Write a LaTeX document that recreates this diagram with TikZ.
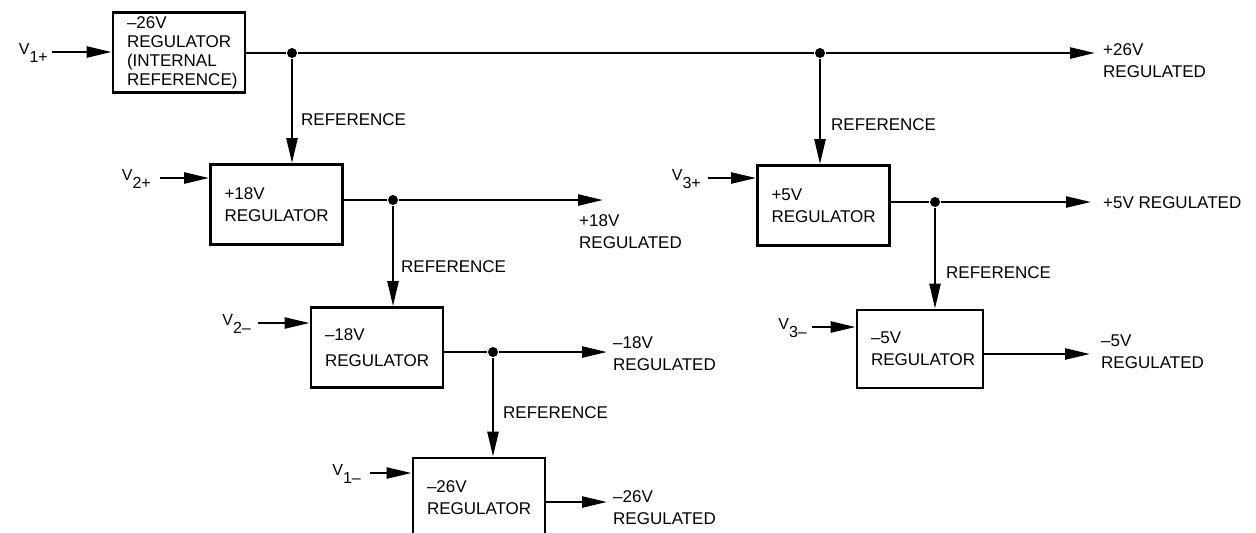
\documentclass[tikz,border=0pt]{standalone}
\usepackage{fontspec}
\setmainfont{Liberation Sans}
\usepackage{tikz}
\usetikzlibrary{arrows.meta}

% supply name with lowered index
\newcommand{\vname}[1]{V\raisebox{-4pt}{#1}}

\begin{document}
\begin{tikzpicture}[x=0.5pt,y=-0.5pt,
  font=\fontsize{8.5}{11}\selectfont,
  line width=1.2pt,
  arr/.style={-{Triangle[length=12.5pt,width=5.5pt]}},
  regbox/.style={draw,line width=1.4pt,text width=52pt,inner xsep=7pt,
    inner ysep=1pt,minimum height=40pt,align=left},
  lbl/.style={align=left,inner sep=0pt},
  vlbl/.style={anchor=base east,inner sep=0pt,font=\fontsize{8}{9}\selectfont},
  dot/.style={circle,fill,inner sep=0pt,minimum size=5pt}]

% frame
\useasboundingbox (0,0) rectangle (1256,532);
\clip (0,0) rectangle (1256,532);

% regulators
\node[regbox,font=\fontsize{8.5}{9.5}\selectfont] (intreg) at (179,52.5)
  {--26V\\REGULATOR\\(INTERNAL\\REFERENCE)};
\node[regbox] (reg18p) at (276.5,204.5) {+18V\\REGULATOR};
\node[regbox,font=\fontsize{8.5}{13}\selectfont] (reg18n) at (377,347.5) {--18V\\REGULATOR};
\node[regbox] (reg26n) at (479,498) {--26V\\REGULATOR};
\node[regbox] (reg5p) at (823.5,205.5) {+5V\\REGULATOR};
\node[regbox,text width=49pt,minimum height=39pt] (reg5n) at (920,349) {--5V\\REGULATOR};

% junctions
\node[dot] (j1) at (292,53) {};
\node[dot] (j2) at (820,53) {};
\node[dot] (j3) at (393,200) {};
\node[dot] (j4) at (493,352) {};
\node[dot] (j5) at (935,202) {};

% free ends of the outputs
\coordinate (o1) at (1095,53);
\coordinate (o2) at (603,200);
\coordinate (o3) at (607,352);
\coordinate (o4) at (607,502);
\coordinate (o5) at (1091,202);
\coordinate (o6) at (1090,354);

% free ends of the inputs
\coordinate (i1) at (52,52);
\coordinate (i2) at (160,178);
\coordinate (i3) at (258,323);
\coordinate (i4) at (370,473);
\coordinate (i5) at (708,178);
\coordinate (i6) at (812,327);

% inputs
\node[vlbl] (v1p) at (49,54) {\vname{1+}};
\node[vlbl] (v2p) at (152,180) {\vname{2+}};
\node[vlbl] (v2n) at (252,325) {\vname{2--}};
\node[vlbl] (v1n) at (362,475) {\vname{1--}};
\node[vlbl] (v3p) at (702,180) {\vname{3+}};
\node[vlbl] (v3n) at (808,329) {\vname{3--}};
\draw[arr] (i1) -- (i1 -| intreg.west);
\draw[arr] (i2) -- (i2 -| reg18p.west);
\draw[arr] (i3) -- (i3 -| reg18n.west);
\draw[arr] (i4) -- (i4 -| reg26n.west);
\draw[arr] (i5) -- (i5 -| reg5p.west);
\draw[arr] (i6) -- (i6 -| reg5n.west);

% outputs
\draw (intreg.east |- j1) -- (j1);
\draw (j1) -- (j2);
\draw[arr] (j2) -- (o1);
\draw (reg18p.east |- j3) -- (j3);
\draw[arr] (j3) -- (o2);
\draw (reg18n.east |- j4) -- (j4);
\draw[arr] (j4) -- (o3);
\draw[arr] (reg26n.east |- o4) -- (o4);
\draw (reg5p.east |- j5) -- (j5);
\draw[arr] (j5) -- (o5);
\draw[arr] (reg5n.east |- o6) -- (o6);

% output labels
\node[lbl,anchor=west] (out26p) at (1102,61) {+26V\\REGULATED};
\node[lbl,anchor=west] (out18p) at (578,232) {+18V\\REGULATED};
\node[lbl,anchor=west] (out18n) at (612,354) {--18V\\REGULATED};
\node[lbl,anchor=west] (out26n) at (612,508) {--26V\\REGULATED};
\node[lbl,anchor=west] (out5p) at (1102,203) {+5V REGULATED};
\node[lbl,anchor=west] (out5n) at (1100,352) {--5V\\REGULATED};

% reference feeds
\draw[arr] (j1) -- (j1 |- reg18p.north);
\draw[arr] (j2) -- (j2 |- reg5p.north);
\draw[arr] (j3) -- (j3 |- reg18n.north);
\draw[arr] (j4) -- (j4 |- reg26n.north);
\draw[arr] (j5) -- (j5 |- reg5n.north);
\node[lbl,anchor=west] (ref1) at (300,120) {REFERENCE};
\node[lbl,anchor=west] (ref2) at (830,125) {REFERENCE};
\node[lbl,anchor=west] (ref3) at (400,267) {REFERENCE};
\node[lbl,anchor=west] (ref4) at (502,413) {REFERENCE};
\node[lbl,anchor=west] (ref5) at (945,273) {REFERENCE};

\end{tikzpicture}
\end{document}
